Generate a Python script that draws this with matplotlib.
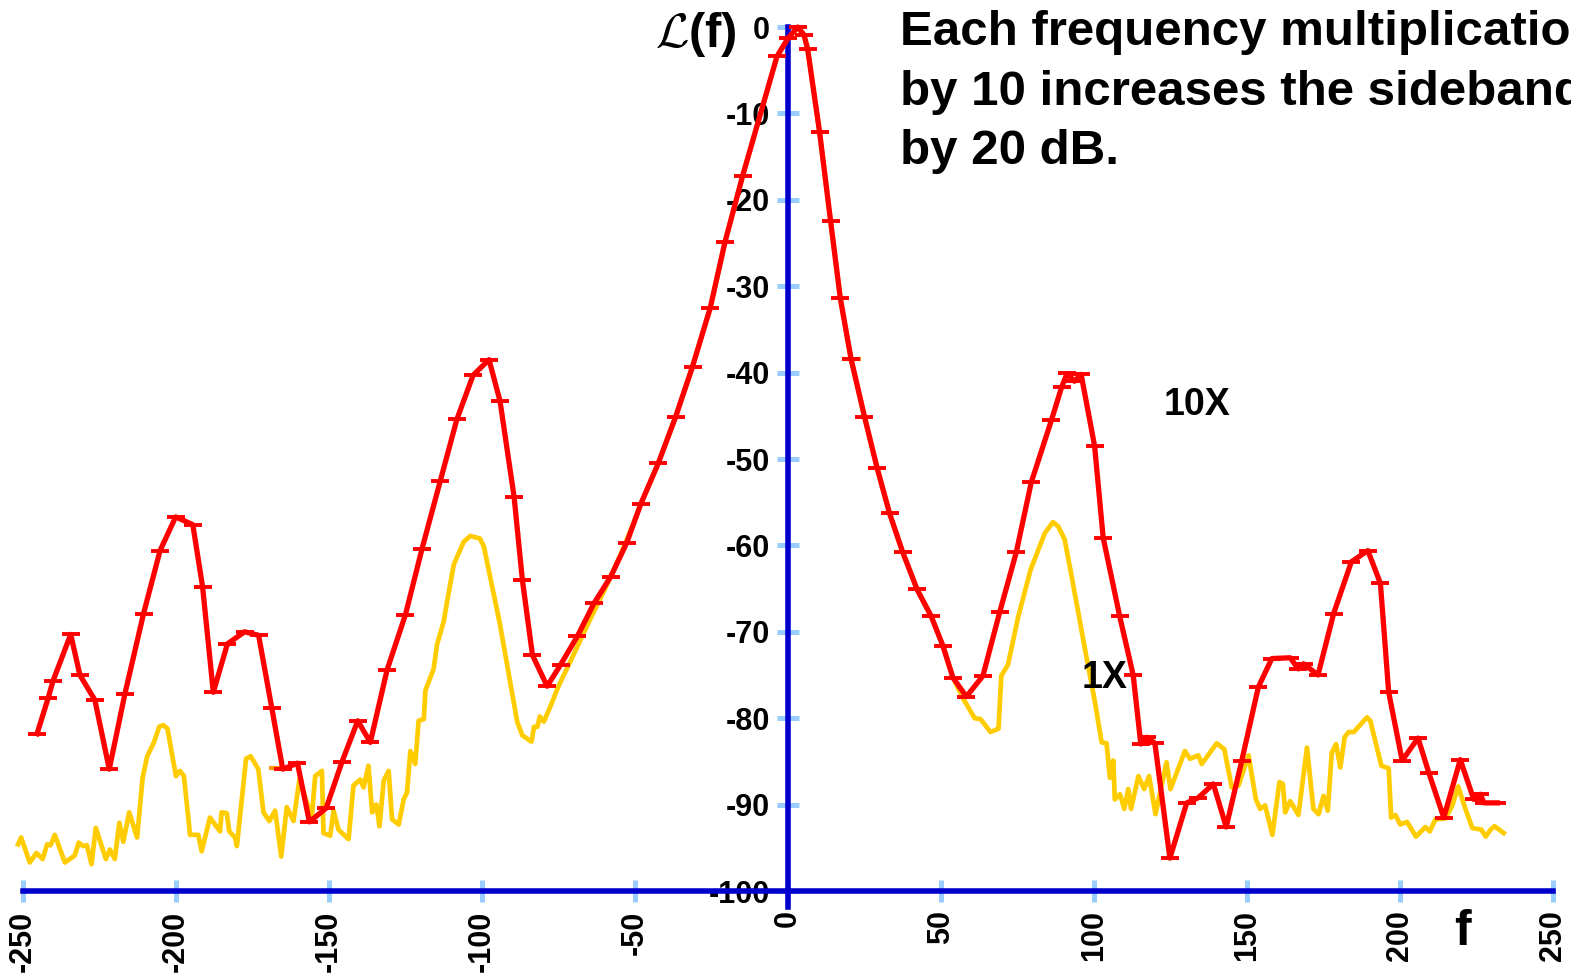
import matplotlib
matplotlib.use('Agg')
import matplotlib.pyplot as plt

plt.rcParams['font.family'] = ['Liberation Sans', 'DejaVu Sans']
plt.rcParams['font.weight'] = 'bold'

# 10X trace (red)
red_x = [-245.4, -241.8, -240.2, -234.4, -231.4, -226.5, -221.8, -216.7, -210.6, -205.2,
         -200.1, -194.5, -191.3, -187.8, -183.2, -177.6, -173.0, -168.7, -165.1, -160.3,
         -156.4, -150.9, -145.8, -140.6, -136.5, -131.0, -125.0, -119.6, -113.6, -108.2,
         -102.9, -97.7, -94.1, -89.5, -86.8, -83.5, -78.7, -74.3, -68.8, -63.4,
         -57.9, -52.7, -48.1, -42.4, -36.7, -31.2, -25.4, -20.6, -14.8, -3.6,
         0.0, 3.2, 5.2, 6.4, 10.3, 13.9, 17.1, 20.6, 25.0, 29.1,
         33.2, 37.5, 42.2, 46.8, 50.6, 53.9, 58.3, 63.7, 69.2, 74.6,
         79.5, 86.1, 89.4, 91.2, 93.6, 95.8, 100.2, 103.0, 108.4, 112.8,
         115.3, 117.2, 119.9, 124.8, 130.3, 134.1, 139.0, 143.2, 148.3, 153.7,
         158.1, 164.1, 166.8, 168.5, 173.2, 178.3, 184.1, 189.5, 193.6, 196.3,
         200.7, 205.9, 209.4, 214.3, 219.7, 224.1, 226.3, 227.4, 231.8]
red_y = [-81.8, -77.7, -75.7, -70.3, -75.0, -77.9, -85.9, -77.2, -67.9, -60.6,
         -56.7, -57.6, -64.8, -77.0, -71.4, -70.0, -70.4, -78.8, -85.9, -85.2,
         -92.0, -90.4, -85.1, -80.3, -82.8, -74.4, -68.0, -60.4, -52.5, -45.4,
         -40.3, -38.5, -43.3, -54.4, -64.0, -72.7, -76.3, -73.8, -70.5, -66.7,
         -63.6, -59.7, -55.2, -50.5, -45.1, -39.3, -32.5, -24.9, -17.2, -3.4,
         -1.3, 0.0, -0.9, -2.5, -12.1, -22.4, -31.4, -38.4, -45.1, -51.0,
         -56.3, -60.8, -65.1, -68.2, -71.6, -75.3, -77.5, -75.1, -67.7, -60.8,
         -52.7, -45.5, -41.7, -40.1, -41.0, -40.2, -48.5, -59.1, -68.2, -75.0,
         -83.0, -82.2, -82.9, -96.2, -89.8, -89.2, -87.6, -92.6, -84.9, -76.4,
         -73.1, -73.0, -74.3, -73.7, -75.0, -67.9, -61.9, -60.6, -64.4, -77.0,
         -84.9, -82.3, -86.3, -91.5, -84.8, -89.4, -88.8, -89.8, -89.8]

# 1X trace (yellow)
yel_x = [-251.6, -250.6, -247.8, -245.6, -243.6, -242.1, -241.0, -239.6, -236.3, -233.1,
         -231.8, -230.4, -229.1, -227.6, -226.2, -222.9, -221.6, -220.0, -218.5, -217.2,
         -215.3, -212.7, -210.9, -209.4, -207.2, -205.5, -204.2, -202.8, -200.0, -198.7,
         -197.4, -195.4, -192.7, -191.6, -188.9, -185.6, -185.1, -183.4, -182.6, -180.7,
         -180.1, -177.1, -175.6, -173.1, -171.4, -169.5, -167.6, -165.6, -163.8, -161.6,
         -159.6, -157.5, -155.6, -154.5, -152.3, -151.8, -149.6, -148.5, -146.9, -143.6,
         -142.0, -139.8, -138.7, -137.1, -135.9, -134.5, -133.5, -132.1, -130.5, -129.4,
         -127.2, -125.6, -124.5, -123.4, -121.8, -120.7, -119.0, -118.5, -115.8, -114.7,
         -112.5, -111.4, -109.2, -106.0, -103.8, -100.7, -99.4, -94.2, -88.5, -86.8,
         -83.8, -83.0, -81.9, -81.1, -79.8, -77.6, -75.0, -70.0, -65.0, -60.0,
         -55.0, -50.0, -48.1, -42.4, -36.7, -31.2, -25.4, -20.6, -14.8, -3.6,
         0.0, 3.2, 5.2, 6.4, 10.3, 13.9, 17.1, 20.6, 25.0, 29.1,
         33.2, 37.5, 42.2, 46.8, 50.6, 53.9, 57.2, 61.0, 62.9, 66.2,
         68.8, 69.7, 71.9, 75.2, 79.3, 83.9, 86.6, 88.3, 90.4, 92.6,
         97.0, 100.3, 102.5, 104.1, 105.2, 106.3, 106.8, 108.5, 109.9, 111.2,
         112.1, 114.5, 116.4, 118.0, 120.1, 123.7, 125.0, 129.7, 131.4, 134.1,
         135.2, 140.1, 142.6, 145.0, 147.2, 150.5, 152.9, 154.3, 155.9, 158.3,
         160.6, 161.7, 162.5, 164.1, 166.8, 169.6, 171.7, 173.4, 175.0, 176.4,
         177.7, 179.1, 180.5, 181.9, 183.2, 184.9, 189.2, 190.3, 193.9, 196.3,
         197.1, 198.5, 200.1, 202.3, 205.2, 208.3, 209.7, 211.6, 214.8, 217.0,
         219.0, 221.4, 223.6, 226.6, 228.0, 229.6, 230.9, 233.9]
yel_y = [-94.6, -93.8, -96.7, -95.6, -96.3, -94.6, -94.7, -93.5, -96.7, -95.9,
         -94.4, -94.8, -94.7, -96.9, -92.7, -96.3, -95.2, -96.3, -92.1, -94.3,
         -90.9, -93.8, -86.9, -84.4, -82.8, -81.0, -80.8, -81.2, -86.7, -86.1,
         -86.7, -93.5, -93.5, -95.4, -91.5, -93.1, -90.9, -91.0, -93.1, -93.8,
         -94.8, -84.7, -84.4, -85.9, -90.9, -91.9, -90.7, -96.0, -90.3, -91.9,
         -87.0, -89.5, -91.3, -86.7, -86.1, -93.3, -93.6, -90.7, -92.9, -94.0,
         -87.8, -87.1, -88.0, -85.5, -90.9, -90.0, -92.5, -87.2, -86.1, -91.7,
         -92.3, -89.4, -88.6, -83.8, -85.3, -80.3, -80.1, -76.8, -74.3, -71.5,
         -68.8, -66.5, -62.2, -59.6, -58.9, -59.2, -60.1, -69.0, -80.4, -82.0,
         -82.7, -81.0, -81.0, -79.8, -80.4, -78.6, -76.3, -72.6, -68.8, -65.2,
         -61.3, -57.0, -55.2, -50.5, -45.1, -39.3, -32.5, -24.9, -17.2, -3.4,
         -1.3, 0.0, -0.9, -2.5, -12.1, -22.4, -31.4, -38.4, -45.1, -51.0,
         -56.3, -60.8, -65.1, -68.2, -71.6, -75.3, -77.7, -80.0, -80.1, -81.6,
         -81.2, -75.1, -73.8, -68.3, -62.8, -58.6, -57.3, -57.8, -59.3, -63.4,
         -71.9, -78.1, -82.8, -82.9, -86.9, -84.9, -89.4, -88.8, -90.5, -88.2,
         -90.5, -86.7, -88.2, -86.7, -91.1, -85.1, -88.2, -83.8, -84.7, -84.3,
         -85.3, -82.9, -83.6, -88.0, -87.8, -84.3, -89.4, -90.5, -90.1, -93.5,
         -87.4, -87.6, -90.9, -89.6, -91.2, -83.4, -90.5, -91.1, -89.0, -90.7,
         -84.0, -83.0, -85.7, -82.2, -81.6, -81.6, -79.9, -80.3, -85.5, -85.8,
         -91.5, -91.2, -92.3, -92.0, -93.7, -92.6, -93.1, -91.7, -91.6, -90.2,
         -87.9, -90.5, -92.7, -92.9, -93.7, -92.9, -92.5, -93.3]

# the two stray orange dashes
dash_x = [-166.5, 21.0]
dash_y = [-85.8, -38.4]

xticks = [-250, -200, -150, -100, -50, 0, 50, 100, 150, 200, 250]
yticks = [0, -10, -20, -30, -40, -50, -60, -70, -80, -90, -100]

fig = plt.figure(figsize=(15.71, 9.74), dpi=100)
ax = fig.add_axes([0.00878, 0.0586, 0.98561, 0.92696])
ax.set_xlim(-253, 253)
ax.set_ylim(-103, 1.5)

ax.plot(yel_x, yel_y, color='#FFCC00', lw=3.4, zorder=3)
ax.plot(dash_x, dash_y, ls='none', marker='_', ms=13, mew=3, color='#FF9900', zorder=3.5)
ax.plot(red_x, red_y, color='#FF0000', lw=3.8, marker='_', ms=13, mew=2.8, zorder=4)

for s in ['top', 'right']:
    ax.spines[s].set_visible(False)
ax.spines['left'].set_position(('data', 0))
ax.spines['left'].set_bounds(-101.8, 0)
ax.spines['bottom'].set_position(('data', -100))
ax.spines['bottom'].set_bounds(-250, 250)
for s in ['left', 'bottom']:
    ax.spines[s].set_color('#0000CC')
    ax.spines[s].set_linewidth(4)

ax.set_xticks(xticks)
ax.set_xticklabels([str(t) for t in xticks])
ax.set_yticks(yticks)
ax.set_yticklabels([str(t) for t in yticks])
ax.tick_params(axis='x', direction='inout', length=16, width=3.6, color='#99CCFF',
               pad=6, labelsize=22, labelrotation=90)
ax.tick_params(axis='y', direction='inout', length=16, width=3.6, color='#99CCFF',
               pad=5, labelsize=22)

ax.text(-16.7, -2.3, r'$\mathcal{L}$(f)', fontsize=35, fontweight='bold',
        ha='right', va='baseline', math_fontfamily='cm')
ax.text(133.7, -43.75, '10X', fontsize=27, fontweight='bold', ha='center', va='center')
ax.text(103.3, -75.3, '1X', fontsize=27, fontweight='bold', ha='center', va='center',
        zorder=5)
ax.text(220.3, -104.7, 'f', fontsize=36, fontweight='bold', ha='center', va='center')
fig.text(900 / 1571, 1 - 10 / 974,
         'Each frequency multiplication\nby 10 increases the sidebands\nby 20 dB.',
         fontsize=35.5, fontweight='bold', ha='left', va='top', linespacing=1.42)

fig.savefig('out.png', dpi=100)
